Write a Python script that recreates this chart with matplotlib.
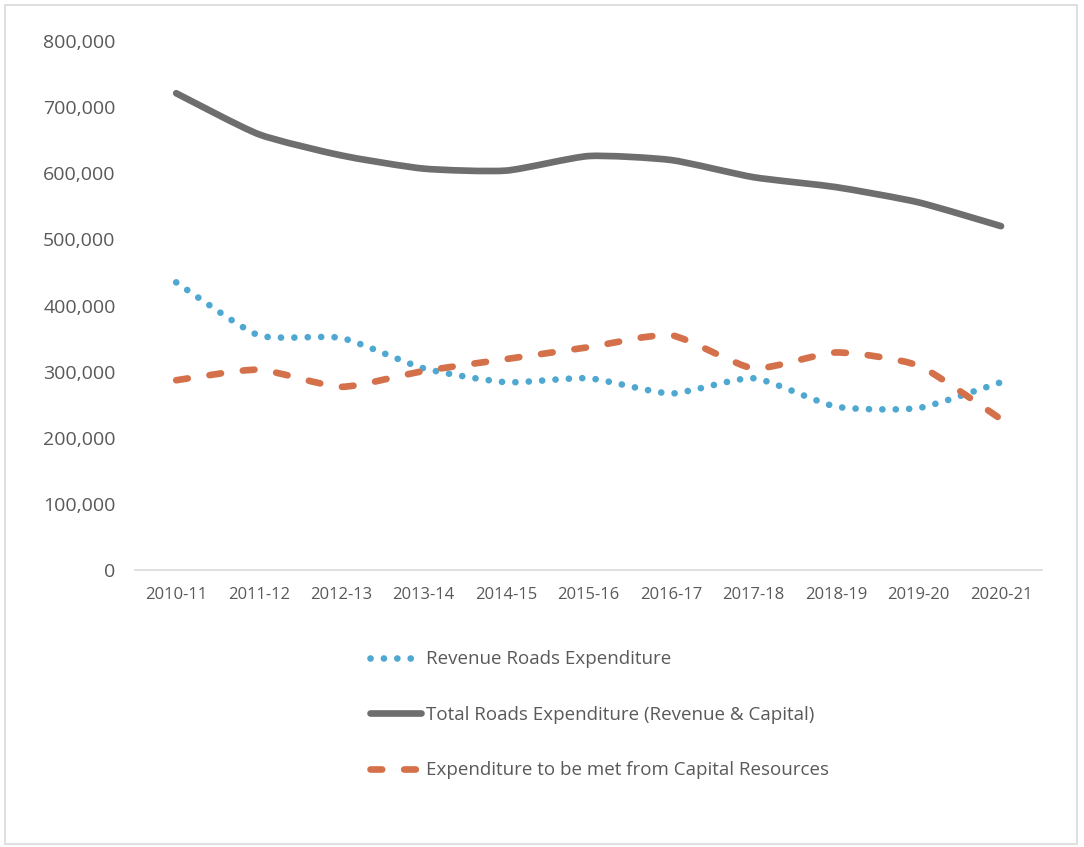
import numpy as np
import matplotlib
matplotlib.use("Agg")
import matplotlib.pyplot as plt
from matplotlib.path import Path
from matplotlib.patches import PathPatch, Rectangle
from matplotlib.lines import Line2D
from matplotlib.ticker import FuncFormatter

plt.rcParams['font.family'] = ['Open Sans', 'DejaVu Sans']

years = ['2010-11', '2011-12', '2012-13', '2013-14', '2014-15', '2015-16',
         '2016-17', '2017-18', '2018-19', '2019-20', '2020-21']
revenue = [435000, 355000, 351000, 305000, 284000, 290000,
           267000, 290000, 247000, 245000, 284000]
total = [721000, 659000, 627000, 607000, 604000, 626000,
         620000, 594000, 579000, 556000, 520000]
capital = [287000, 303000, 277000, 301000, 319000, 337000,
           355000, 305000, 329000, 309000, 228000]

BLUE = '#4FA8D1'
GREY = '#6E6E6E'
ORANGE = '#D4704A'
TEXT = '#595959'


def smooth_path(xs, ys, k=0.1):
    # cardinal-spline tangents turned into cubic bezier segments
    pts = np.column_stack([xs, ys]).astype(float)
    n = len(pts)
    verts = [pts[0]]
    codes = [Path.MOVETO]
    for i in range(n - 1):
        p0 = pts[i - 1] if i > 0 else pts[i]
        p1 = pts[i]
        p2 = pts[i + 1]
        p3 = pts[i + 2] if i + 2 < n else pts[i + 1]
        c1 = p1 + (p2 - p0) * k
        c2 = p2 - (p3 - p1) * k
        verts += [c1, c2, p2]
        codes += [Path.CURVE4] * 3
    return Path(verts, codes)


fig = plt.figure(figsize=(10.84, 8.47), dpi=100)
fig.patches.append(Rectangle((0.005, 0.004), 0.989, 0.99, transform=fig.transFigure,
                             fill=False, edgecolor='#D9D9D9', linewidth=1.2))

ax = fig.add_axes([0.1245, 0.327, 0.837, 0.6246])
x = np.arange(len(years))

lw = 4.8
styles = [
    (revenue, BLUE, (0, (0.01, 2.0)), 'Revenue Roads Expenditure'),
    (total, GREY, '-', 'Total Roads Expenditure (Revenue & Capital)'),
    (capital, ORANGE, (0, (1.75, 3.3)), 'Expenditure to be met from Capital Resources'),
]
handles = []
for vals, col, ls, label in styles:
    patch = PathPatch(smooth_path(x, vals), fill=False, edgecolor=col,
                      linewidth=lw, linestyle=ls, capstyle='round', joinstyle='round')
    ax.add_patch(patch)
    handles.append(Line2D([], [], color=col, linewidth=lw, linestyle=ls,
                          dash_capstyle='round', solid_capstyle='round', label=label))

ax.set_xlim(-0.5, len(years) - 0.5)
ax.set_ylim(0, 800000)
ax.set_xticks(x)
ax.set_xticklabels(years)
ax.set_yticks(np.arange(0, 800001, 100000))
ax.yaxis.set_major_formatter(FuncFormatter(lambda v, p: '{:,.0f}'.format(v)))

for side in ['top', 'right', 'left']:
    ax.spines[side].set_visible(False)
ax.spines['bottom'].set_color('#D9D9D9')
ax.spines['bottom'].set_linewidth(1.2)
ax.tick_params(axis='both', length=0, colors=TEXT)
ax.tick_params(axis='y', labelsize=14, pad=14)
ax.tick_params(axis='x', labelsize=12, pad=12)

fig.legend(handles=handles, loc='upper center', bbox_to_anchor=(0.553, 0.252),
           frameon=False, ncol=1, fontsize=13.5, labelcolor=TEXT,
           handlelength=2.75, handletextpad=0.25, labelspacing=2.0)

fig.savefig('out.png', dpi=100)
